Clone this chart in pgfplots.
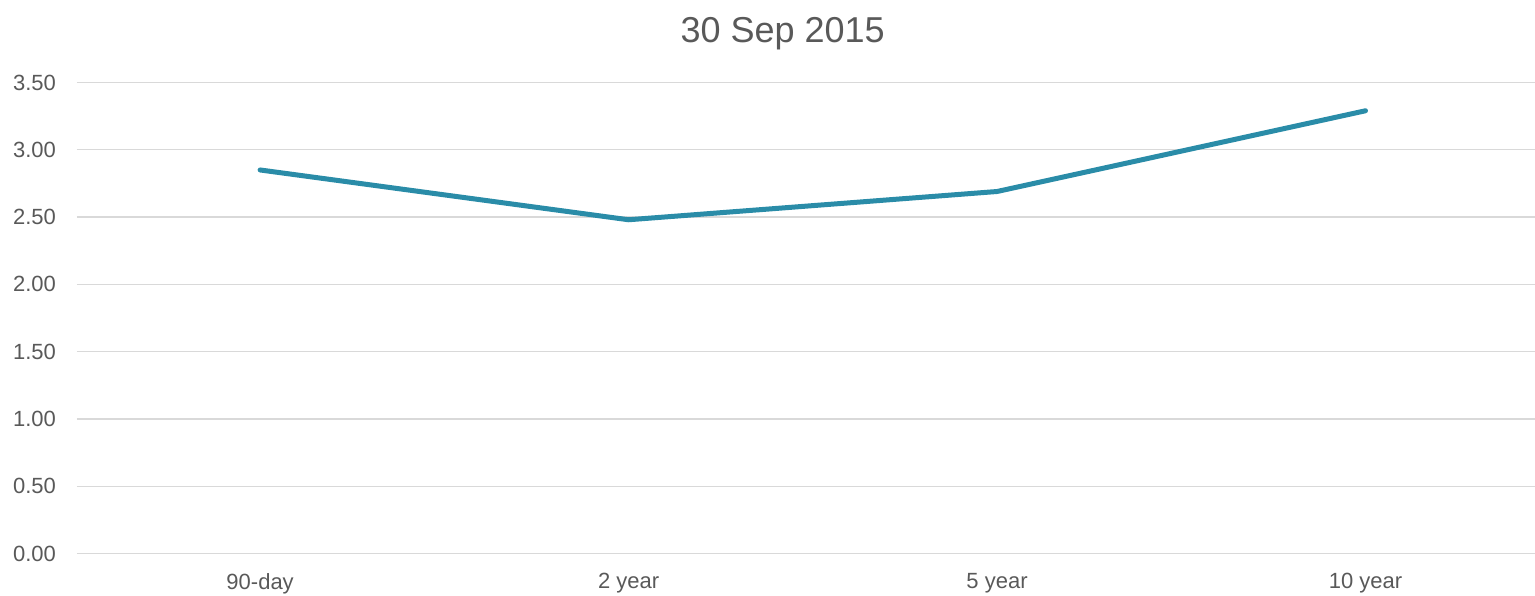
\documentclass[border=0pt]{standalone}
\usepackage{fontspec}
\setmainfont{Liberation Sans}
\usepackage{pgfplots}
\pgfplotsset{compat=1.18}

\definecolor{linecol}{HTML}{2A8CA8}
\definecolor{txtcol}{HTML}{595959}
\definecolor{gridcol}{HTML}{D9D9D9}

\begin{document}
\begin{tikzpicture}
\path[use as bounding box] (-38.5pt,-20.75pt) rectangle (729pt,276.75pt);
\begin{axis}[
  at={(0,0)}, anchor=south west,
  scale only axis,
  width=729pt, height=235.5pt,
  xmin=-0.497, xmax=3.46,
  ymin=0, ymax=3.5,
  xtick=data,
  xticklabels={90-day,2 year,5 year,10 year},
  ytick={0,0.5,...,3.5},
  yticklabel style={/pgf/number format/fixed, /pgf/number format/fixed zerofill, /pgf/number format/precision=2, xshift=-7pt},
  /pgf/number format/assume math mode=true,
  ymajorgrids,
  grid style={gridcol, line width=0.6pt},
  axis line style={draw=none},
  major tick length=0pt,
  tick label style={font=\fontsize{11}{13}\selectfont, text=txtcol},
  xticklabel style={yshift=-6.5pt},
  clip=false,
  title={30 Sep 2015},
  title style={font=\fontsize{18}{21}\selectfont, text=txtcol, at={(0.484,1)}, anchor=center, yshift=18.5pt},
]
\addplot[linecol, line width=2.5pt, line cap=round, line join=round] coordinates {
  (0,2.85) (1,2.48) (2,2.69) (3,3.29)
};
\end{axis}
\end{tikzpicture}
\end{document}
